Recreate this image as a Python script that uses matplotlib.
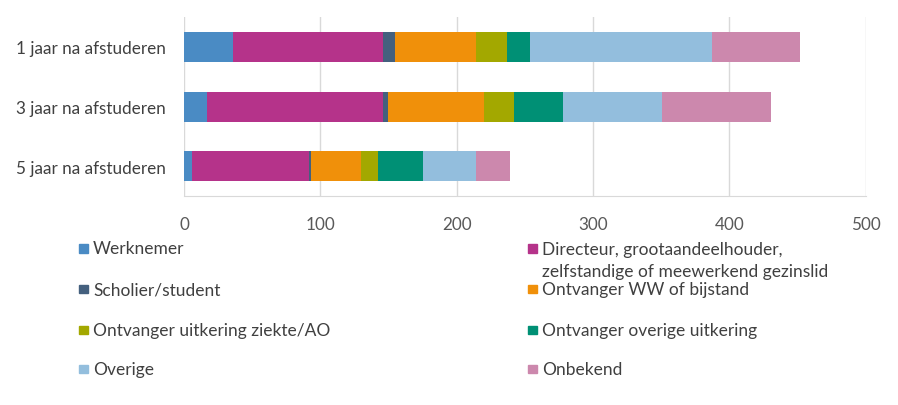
import matplotlib.pyplot as plt
from matplotlib.patches import Rectangle

plt.rcParams['font.family'] = ['Lato', 'DejaVu Sans']

categories = ['1 jaar na afstuderen', '3 jaar na afstuderen', '5 jaar na afstuderen']
series_names = [
    'Werknemer',
    'Directeur, grootaandeelhouder,\nzelfstandige of meewerkend gezinslid',
    'Scholier/student',
    'Ontvanger WW of bijstand',
    'Ontvanger uitkering ziekte/AO',
    'Ontvanger overige uitkering',
    'Overige',
    'Onbekend',
]
werknemer = [36, 17, 6]
directeur = [110, 129, 85.5]
scholier = [9, 3.5, 1.7]
ww_bijstand = [59, 70.5, 36.5]
ziekte_ao = [23, 22, 12.7]
overige_uitkering = [17, 36, 33]
overige = [133, 72.5, 39]
onbekend = [65, 80, 25]
series_values = [werknemer, directeur, scholier, ww_bijstand,
                 ziekte_ao, overige_uitkering, overige, onbekend]
colors = ['#4A8BC4', '#B5338A', '#44607E', '#F0900A',
          '#A3A800', '#009075', '#93BEDD', '#CC88AD']
xticks = [0, 100, 200, 300, 400, 500]

W, H = 898, 406
fig = plt.figure(figsize=(W / 100, H / 100), dpi=100)
ax = fig.add_axes([184 / W, 1 - 197.3 / H, (865.7 - 184) / W, (197.3 - 18) / H])

ypos = list(range(len(categories)))
left = [0.0] * len(categories)
for vals, col in zip(series_values, colors):
    ax.barh(ypos, vals, left=left, height=0.5, color=col, zorder=3)
    left = [l + v for l, v in zip(left, vals)]

ax.set_ylim(len(categories) - 0.5, -0.5)
ax.set_xlim(0, 500)
ax.set_xticks(xticks)
ax.set_yticks(ypos)
ax.set_yticklabels(categories, fontsize=12.3, color='#404040')
ax.tick_params(axis='x', labelsize=12.3, labelcolor='#595959', length=0, pad=14)
ax.tick_params(axis='y', length=0, pad=13)
ax.grid(axis='x', color='#D9D9D9', linewidth=1, zorder=0)
for s in ['top', 'right', 'left']:
    ax.spines[s].set_visible(False)
ax.spines['bottom'].set_color('#D9D9D9')

# legend, two columns filled row by row
col_x = [79, 528]
row_y = [249.5, 290, 331, 370]
for i, (name, col) in enumerate(zip(series_names, colors)):
    x = col_x[i % 2]
    y = row_y[i // 2]
    fig.add_artist(Rectangle((x / W, 1 - (y + 4) / H), 8.5 / W, 8.5 / H,
                             transform=fig.transFigure, color=col))
    lines = name.split('\n')
    for k, line in enumerate(lines):
        fig.text((x + 14) / W, 1 - (y + 22 * k) / H, line, fontsize=12.5,
                 color='#404040', va='center', ha='left')

fig.savefig('out.png', dpi=100)
